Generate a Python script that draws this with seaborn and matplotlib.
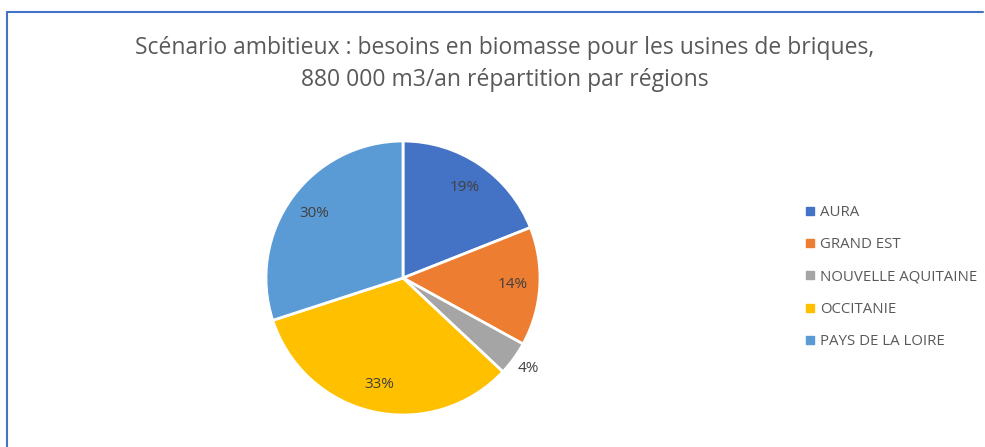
import matplotlib
matplotlib.use("Agg")
import matplotlib.pyplot as plt
from matplotlib.lines import Line2D
import seaborn as sns

regions = ["AURA", "GRAND EST", "NOUVELLE AQUITAINE", "OCCITANIE", "PAYS DE LA LOIRE"]
shares = [19, 14, 4, 33, 30]
colors = ["#4472C4", "#ED7D31", "#A5A5A5", "#FFC000", "#5B9BD5"]
title = "Scénario ambitieux : besoins en biomasse pour les usines de briques,\n880 000 m3/an répartition par régions"

sns.set_theme(style="white")
plt.rcParams['font.family'] = ['Open Sans', 'DejaVu Sans']
pal = sns.color_palette(colors)

fig = plt.figure(figsize=(9.85, 4.47), dpi=100)
fig.patch.set_facecolor("white")

# chart frame (top and left edges visible)
fig.add_artist(Line2D([7 / 985, 7 / 985], [0, 1 - 12 / 447], color="#4472C4", lw=1.5))
fig.add_artist(Line2D([7 / 985, 983 / 985], [1 - 12 / 447, 1 - 12 / 447], color="#4472C4", lw=1.5))

fig.text(505 / 985, 1 - 64 / 447, title, ha="center", va="center",
         fontsize=16.5, color="#595959", linespacing=1.4)

ax = fig.add_axes([266 / 985, 32 / 447, 274 / 985, 274 / 447])
wedges, texts, autotexts = ax.pie(
    shares, colors=pal, startangle=90, counterclock=False,
    autopct=lambda p: f"{p:.0f}%", pctdistance=0.8,
    wedgeprops=dict(edgecolor="white", linewidth=2),
    textprops=dict(fontsize=11, color="#404040"),
)
# small slice label sits outside, like Excel's best fit
x4, y4 = autotexts[2].get_position()
autotexts[2].set_position((1.13 * x4 / 0.8, 1.13 * y4 / 0.8))
ax.set_xlim(-1, 1)
ax.set_ylim(-1, 1)
ax.set_aspect("equal")
ax.axis("off")

handles = [Line2D([], [], marker="s", linestyle="none", markersize=5.5,
                  markerfacecolor=c, markeredgecolor=c) for c in pal]
fig.legend(handles, regions, loc="center left", bbox_to_anchor=(799 / 985, 1 - 277 / 447),
           frameon=False, fontsize=10.8, labelcolor="#595959", handlelength=0.6,
           handletextpad=0.4, labelspacing=1.15, borderaxespad=0)

fig.savefig("out.png", dpi=100, facecolor="white")
